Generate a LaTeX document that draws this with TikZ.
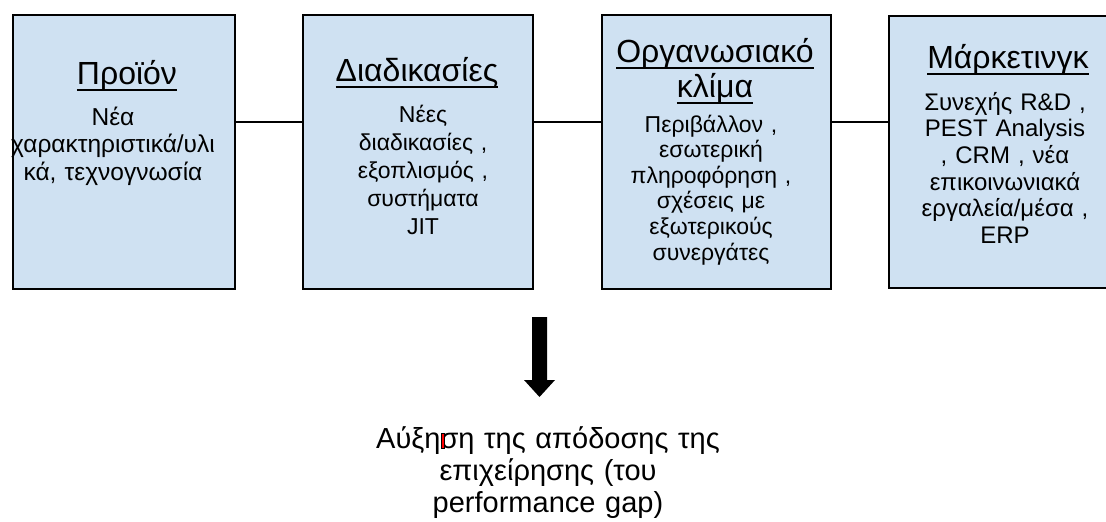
\documentclass[tikz,border=0pt]{standalone}
\usepackage{fontspec}
\setmainfont{Liberation Sans}
\definecolor{boxfill}{HTML}{CFE1F2}
\newsavebox{\ulbx}
\newcommand\myul[1]{\leavevmode\sbox\ulbx{#1}\rlap{\rule[-7pt]{\wd\ulbx}{2pt}}\usebox\ulbx}
\tikzset{
  box/.style={draw=black, line width=1.5pt, fill=boxfill, rectangle, anchor=north west, inner sep=0pt, minimum height=274pt},
  ttl/.style={font=\fontsize{32}{35}\selectfont, anchor=base, inner sep=0pt, align=center, text width=260pt},
  body/.style={anchor=base, inner sep=0pt, align=center, text width=260pt},
  conn/.style={line width=1.5pt},
}
\begin{document}
\begin{tikzpicture}[x=1pt,y=-1pt]
\clip (0,0) rectangle (1106,522);
\fill[white] (0,0) rectangle (1106,522);
\node[box, minimum width=222pt] (b1) at (12,14) {};
\node[box, minimum width=230pt] (b2) at (302,14) {};
\node[box, minimum width=229pt] (b3) at (601,14) {};
\node[box, minimum width=236pt, minimum height=272pt] (b4) at (888,15) {};
\coordinate (cy) at (0,122);
\draw[conn] (b1.east |- cy) -- (b2.west |- cy);
\draw[conn] (b2.east |- cy) -- (b3.west |- cy);
\draw[conn] (b3.east |- cy) -- (b4.west |- cy);
% titles
\node[ttl] (t1) at (127,84) {\myul{Προϊόν}};
\node[ttl] (t2) at (417,81) {\myul{Διαδικασίες}};
\node[ttl] (t3) at (715,62) {\myul{Οργανωσιακό}\\\myul{κλίμα}};
\node[ttl] (t4) at (1008,68) {\myul{Μάρκετινγκ}};
% bodies
\node[body, font=\fontsize{24.5}{27.5}\selectfont] (x1) at (113,125) {Νέα\\χαρακτηριστικά/υλι\\κά, τεχνογνωσία};
\node[body, font=\fontsize{23}{28}\selectfont] (x2) at (423,122) {Νέες\\διαδικασίες ,\\εξοπλισμός ,\\συστήματα\\JIT};
\node[body, font=\fontsize{23}{25.6}\selectfont] (x3) at (711,132) {Περιβάλλον ,\\εσωτερική\\πληροφόρηση ,\\σχέσεις με\\εξωτερικούς\\συνεργάτες};
\node[body, font=\fontsize{24}{26.7}\selectfont] (x4) at (1005,110) {Συνεχής R\&D ,\\PEST Analysis\\, CRM , νέα\\επικοινωνιακά\\εργαλεία/μέσα ,\\ERP};
% arrow
\fill[black] (532,317) -- (547,317) -- (547,380) -- (555,380) -- (539.5,397) -- (524,380) -- (532,380) -- cycle;
% result text
\node[body, font=\fontsize{29}{32}\selectfont, text width=400pt] (res) at (548,448) {Αύξηση της απόδοσης της\\επιχείρησης (του\\performance gap)};
\filldraw[fill=red, draw=black, line width=0.4pt] (441,433) rectangle (444,448);
\end{tikzpicture}
\end{document}
